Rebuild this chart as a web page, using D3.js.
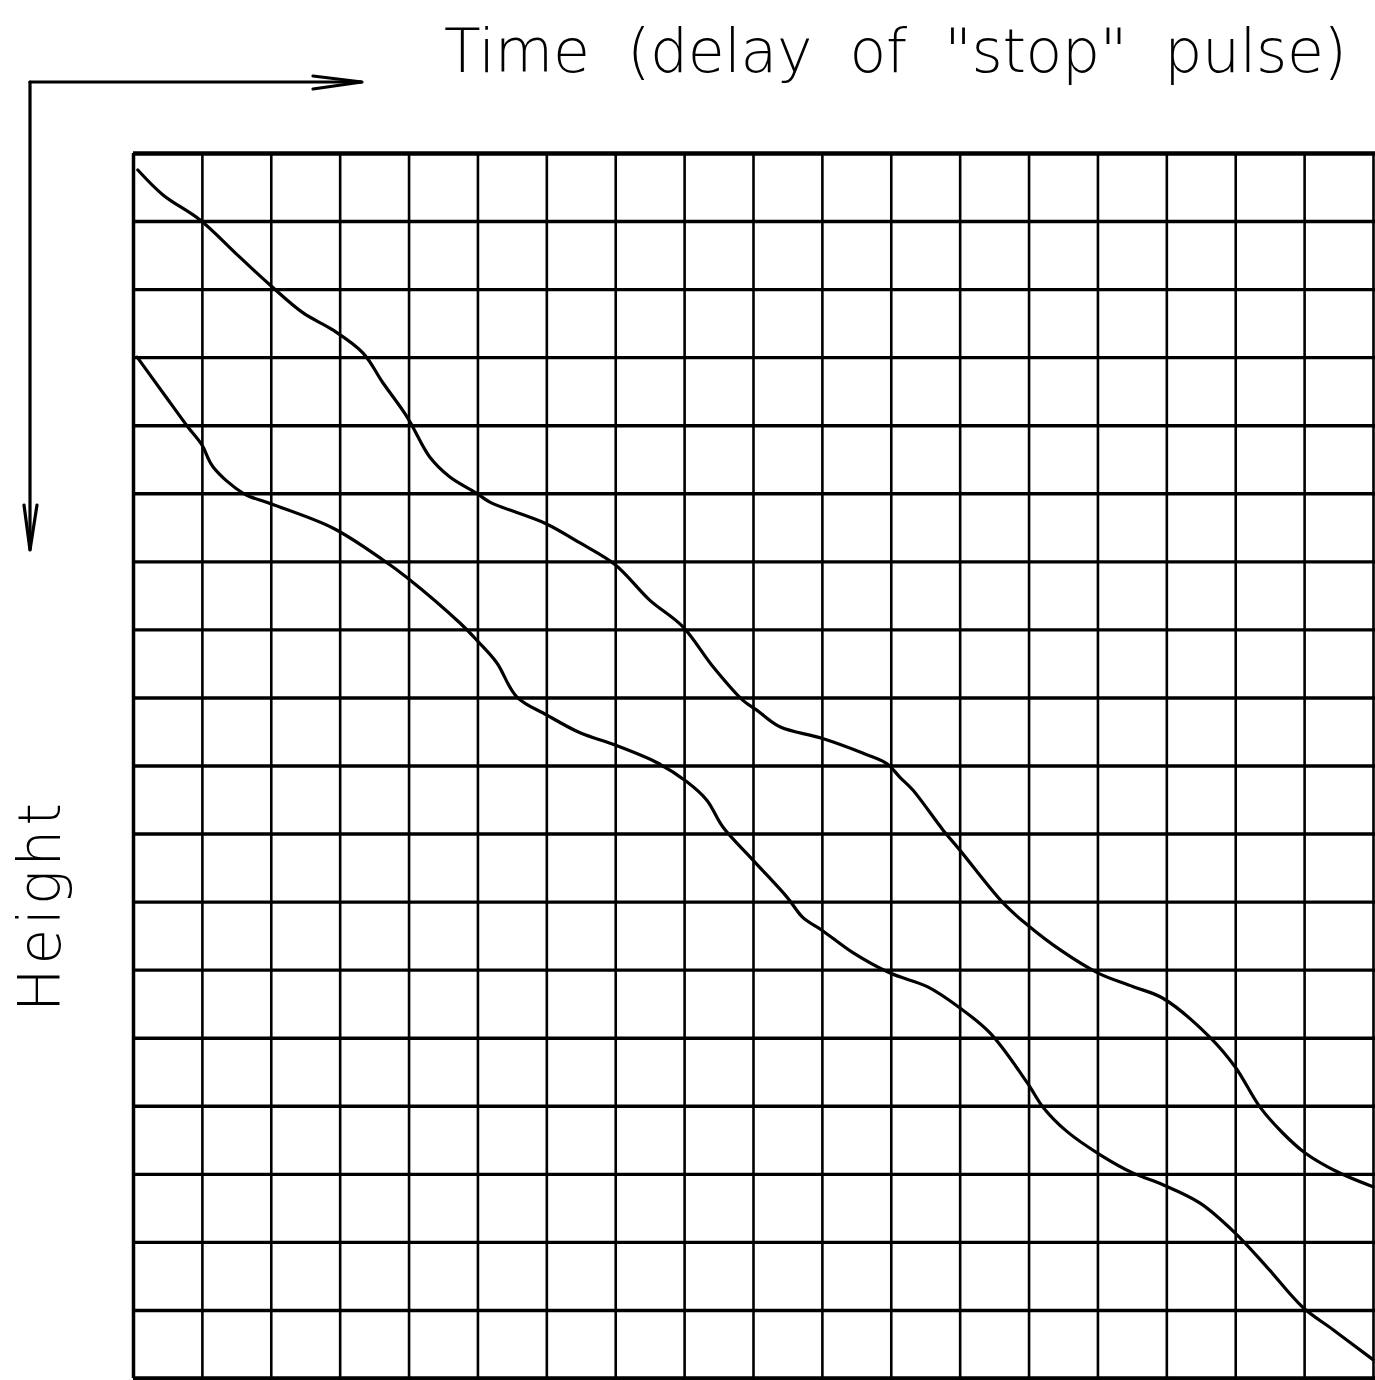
<!DOCTYPE html>
<html>
<head>
<meta charset="utf-8">
<script src="https://cdn.jsdelivr.net/npm/d3@7"></script>
<style>
  body { margin: 0; background: #fff; }
  svg { display: block; }
</style>
</head>
<body>
<div id="chart"></div>
<script>
// grid is 18 x 18 cells, curves read in cell units (col, row), row grows downward
var gridCols = d3.range(0, 19);
var gridRows = d3.range(0, 19);

var titleText = 'Time  (delay  of  "stop"  pulse)';
var yLabel = "Height";

// upper trace
var upperCurve = [
  [0.07, 0.25], [0.44, 0.62], [0.97, 0.98], [1.55, 1.53], [1.99, 1.94],
  [2.47, 2.35], [2.90, 2.60], [3.34, 2.94], [3.63, 3.38], [3.98, 3.88],
  [4.31, 4.47], [4.60, 4.76], [4.99, 5.00], [5.18, 5.13], [5.98, 5.44],
  [6.49, 5.73], [7.00, 6.05], [7.50, 6.57], [7.98, 6.96], [8.42, 7.55],
  [8.85, 8.04], [9.06, 8.19], [9.39, 8.43], [10.00, 8.60], [10.60, 8.82],
  [10.94, 8.97], [11.13, 9.17], [11.32, 9.36], [11.76, 9.95], [12.00, 10.24],
  [12.63, 11.02], [12.98, 11.34], [13.46, 11.71], [14.01, 12.05], [14.52, 12.25],
  [14.95, 12.42], [15.63, 12.99], [16.00, 13.43], [16.36, 14.02], [16.69, 14.40],
  [17.01, 14.69], [17.48, 14.97], [18.00, 15.19]
];

// lower trace
var lowerCurve = [
  [0.06, 3.00], [0.44, 3.53], [0.80, 4.03], [1.00, 4.29], [1.16, 4.61],
  [1.60, 5.00], [1.96, 5.14], [2.90, 5.51], [3.63, 5.98], [3.98, 6.24],
  [4.75, 6.91], [5.01, 7.18], [5.28, 7.49], [5.57, 7.99], [6.01, 8.26],
  [6.49, 8.52], [7.00, 8.70], [7.61, 8.96], [8.04, 9.24], [8.33, 9.51],
  [8.56, 9.90], [9.00, 10.39], [9.49, 10.93], [9.73, 11.24], [10.00, 11.42],
  [10.45, 11.75], [10.99, 12.05], [11.53, 12.25], [12.00, 12.56], [12.44, 12.93],
  [12.98, 13.66], [13.21, 14.02], [13.56, 14.38], [14.04, 14.72], [14.52, 14.99],
  [14.95, 15.16], [15.49, 15.43], [16.00, 15.87], [16.46, 16.37], [16.98, 16.96],
  [17.42, 17.29], [18.00, 17.73]
];

function main() {
    var W = 1375, H = 1380;
    var margin = {top: 153, right: 2, bottom: 2, left: 133},
        width = W - margin.left - margin.right,
        height = H - margin.top - margin.bottom;

    var root = d3.select("#chart")
        .append("svg")
        .attr("width", W)
        .attr("height", H);

    root.append("rect").attr("width", W).attr("height", H).attr("fill", "#fff");

    var svg = root.append("g")
        .attr("transform", "translate(" + margin.left + "," + margin.top + ")");

    var x = d3.scaleLinear().domain([0, 18]).range([0, width]);
    var y = d3.scaleLinear().domain([0, 18]).range([0, height]);

    // vertical grid lines
    svg.append("g")
        .attr("class", "vgrid")
        .call(d3.axisTop(x).tickValues(gridCols).tickSize(-height).tickFormat(""))
        .call(function (g) { g.select(".domain").remove(); })
        .selectAll("line")
        .attr("stroke", "#000")
        .attr("stroke-width", function (d) { return d === 0 ? 3.5 : 2.6; });

    // horizontal grid lines
    svg.append("g")
        .attr("class", "hgrid")
        .call(d3.axisLeft(y).tickValues(gridRows).tickSize(-width - 2).tickFormat(""))
        .call(function (g) { g.select(".domain").remove(); })
        .selectAll("line")
        .attr("stroke", "#000")
        .attr("stroke-width", function (d) { return (d === 0 || d === 18) ? 4.5 : 3.4; });

    // traces
    var line = d3.line()
        .x(function (d) { return x(d[0]); })
        .y(function (d) { return y(d[1]); })
        .curve(d3.curveCatmullRom.alpha(0.5));

    [upperCurve, lowerCurve].forEach(function (c) {
        svg.append("path")
            .attr("d", line(c))
            .attr("fill", "none")
            .attr("stroke", "#000")
            .attr("stroke-width", 3.2)
            .attr("stroke-linejoin", "round")
            .attr("stroke-linecap", "round");
    });

    // direction arrows at top-left
    var arrows = root.append("g")
        .attr("stroke", "#000")
        .attr("stroke-width", 3.2)
        .attr("fill", "none")
        .attr("stroke-linecap", "round");
    arrows.append("path").attr("d", "M30,82 H362");
    arrows.append("path").attr("d", "M313,76 L362,82 L313,89");
    arrows.append("path").attr("d", "M30,82 V550");
    arrows.append("path").attr("d", "M24,505 L30,550 L37,505");

    // title
    root.append("text")
        .attr("x", 444)
        .attr("y", 72)
        .attr("font-family", "'DejaVu Sans', sans-serif")
        .attr("font-size", "60px")
        .attr("font-weight", 300)
        .attr("textLength", 903)
        .attr("lengthAdjust", "spacing")
        .style("white-space", "pre")
        .attr("fill", "#000")
        .text(titleText);

    // y label
    root.append("text")
        .attr("transform", "translate(60,1012) rotate(-90)")
        .attr("font-family", "'DejaVu Sans', sans-serif")
        .attr("font-size", "58px")
        .attr("font-weight", 300)
        .attr("textLength", 209)
        .attr("lengthAdjust", "spacing")
        .attr("fill", "#000")
        .text(yLabel);
}

main();
</script>
</body>
</html>
